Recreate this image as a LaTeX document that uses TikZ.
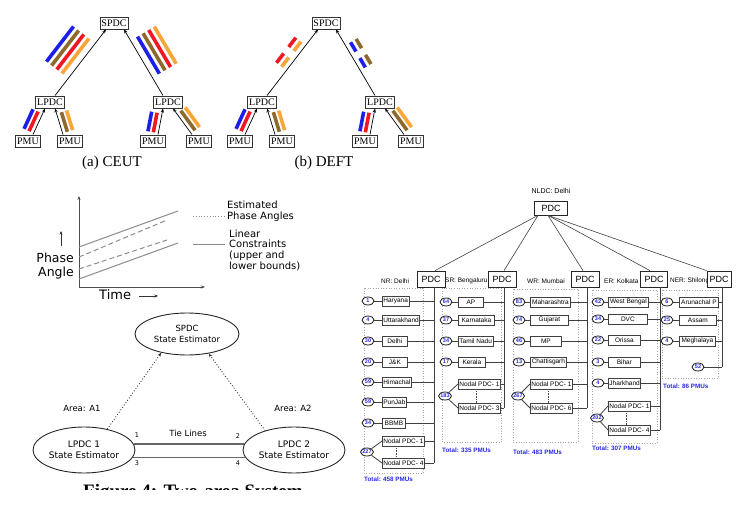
\documentclass[tikz,border=0pt]{standalone}
\usepackage{fontspec}
\setmainfont{Liberation Serif}
\newfontfamily\dejavu{DejaVu Sans}
\newfontfamily\arialf{Liberation Sans}
\usetikzlibrary{arrows.meta,calc,positioning,shapes.geometric}
\definecolor{stblue}{RGB}{30,30,235}
\definecolor{stbrown}{RGB}{140,105,45}
\definecolor{stred}{RGB}{240,25,35}
\definecolor{storange}{RGB}{250,165,55}
\definecolor{pmublue}{RGB}{40,40,225}

% coloured stripe beside an arrow: colour, from, to, t1, t2, offset
\newcommand{\stripe}[6]{\draw[bar,color=#1] ($(#2)!#4!(#3)!#6!90:(#3)$) -- ($(#2)!#5!(#3)!#6!90:(#3)$);}
% state rows of one region: prefix, circle x, box x, bus coordinate, rows
\newcommand{\staterows}[5]{%
  \foreach \n/\s/\yy/\w [count=\i] in {#5}{
    \node[st,anchor=west,minimum width=\w pt] (#1\i) at (#3,\yy) {\s};
    \node[pm] (#1c\i) at (#2,\yy) {\n};
    \draw[wire] (#1c\i) -- (#1\i);
    \draw[wire] (#1\i.east) -- (#1\i.east -| #4);
  }}

\begin{document}
\begin{tikzpicture}[x=1pt,y=-1pt,>=Stealth,
  pbox/.style={draw=black!80,line width=0.9pt,fill=white,inner sep=1.5pt,minimum height=12pt,font=\fontsize{10}{10}\selectfont},
  flow/.style={-{Stealth[length=4pt,width=3.2pt]},line width=0.7pt},
  bar/.style={line width=3.6pt},
  capt/.style={font=\fontsize{15}{15}\selectfont},
  est/.style={ellipse,draw=black!85,line width=0.9pt,inner sep=1pt,align=center,font=\dejavu\fontsize{8.5}{10.5}\selectfont},
  gtxt/.style={inner sep=0pt,align=left,font=\dejavu\fontsize{10}{10.7}\selectfont},
  small/.style={inner sep=0pt,font=\dejavu\fontsize{6.5}{6.5}\selectfont},
  tie/.style={black!60,line width=1.3pt},
  st/.style={draw=black!75,line width=0.8pt,fill=white,inner sep=1pt,minimum height=10pt,font=\arialf\fontsize{6.5}{6.5}\selectfont},
  pm/.style={ellipse,draw=black!90,line width=0.8pt,fill=white,inner sep=0pt,minimum width=12pt,minimum height=8pt,text=pmublue,font=\arialf\bfseries\fontsize{5.5}{5.5}\selectfont},
  pdc/.style={draw=black!85,line width=0.8pt,fill=white,minimum width=28pt,minimum height=16pt,inner sep=1pt,font=\arialf\fontsize{9}{9}\selectfont},
  wire/.style={black!75,line width=0.8pt},
  region/.style={draw=black!35,dotted,line width=0.6pt},
  tot/.style={anchor=west,inner sep=0pt,text=pmublue,font=\arialf\bfseries\fontsize{6.3}{6.3}\selectfont},
  rname/.style={anchor=west,inner sep=0pt,font=\arialf\fontsize{6.5}{6.5}\selectfont}]
\useasboundingbox (0,0) rectangle (744,505);

% (a) CEUT and (b) DEFT
\foreach \p/\dx/\lab in {A/0/(a) CEUT, B/212/(b) DEFT}{
  \node[pbox] (spdc\p) at (114+\dx,23) {SPDC};
  \node[pbox] (lpdcL\p) at (50+\dx,102) {LPDC};
  \node[pbox] (lpdcR\p) at (168+\dx,102) {LPDC};
  \foreach \q/\xx in {1/28,2/70,3/153,4/199}
    \node[pbox] (pmu\q\p) at (\xx+\dx,141) {PMU};
  \node[capt] (cap\p) at (112+\dx,163) {\lab};
  \coordinate (tl\p) at ([xshift=5]lpdcL\p.north);
  \coordinate (tr\p) at ([xshift=-5]lpdcR\p.north);
  \coordinate (sl\p) at ([xshift=-8]spdc\p.south);
  \coordinate (sr\p) at ([xshift=10]spdc\p.south);
  \coordinate (m1\p) at ([xshift=5]pmu1\p.north);
  \coordinate (l1\p) at ([xshift=-5]lpdcL\p.south);
  \coordinate (m2\p) at ([xshift=-7]pmu2\p.north);
  \coordinate (l2\p) at ([xshift=5]lpdcL\p.south);
  \coordinate (m3\p) at ([xshift=5]pmu3\p.north);
  \coordinate (l3\p) at ([xshift=-5]lpdcR\p.south);
  \coordinate (m4\p) at ([xshift=-7]pmu4\p.north);
  \coordinate (l4\p) at ([xshift=5]lpdcR\p.south);
  \stripe{stred}{m1\p}{l1\p}{0.05}{0.8}{5pt}
  \stripe{stblue}{m1\p}{l1\p}{0.05}{0.8}{10.5pt}
  \stripe{stbrown}{m2\p}{l2\p}{0.05}{0.8}{-5pt}
  \stripe{storange}{m2\p}{l2\p}{0.05}{0.8}{-10.5pt}
  \stripe{stred}{m3\p}{l3\p}{0.05}{0.8}{5pt}
  \stripe{stblue}{m3\p}{l3\p}{0.05}{0.8}{10.5pt}
  \stripe{stbrown}{m4\p}{l4\p}{0.05}{0.8}{-5pt}
  \stripe{storange}{m4\p}{l4\p}{0.05}{0.8}{-10.5pt}
  \draw[flow] (tl\p) -- (sl\p);
  \draw[flow] (tr\p) -- (sr\p);
  \foreach \q in {1,2,3,4}
    \draw[flow] (m\q\p) -- (l\q\p);
}
\foreach \c/\o in {storange/8pt,stred/14.5pt,stbrown/21pt,stblue/27.5pt}{
  \stripe{\c}{tlA}{slA}{0.26}{0.79}{\o}}
\foreach \c/\o in {stblue/-8pt,stbrown/-14.5pt,stred/-21pt,storange/-27.5pt}{
  \stripe{\c}{trA}{srA}{0.27}{0.83}{\o}}
\foreach \ta/\tb in {0.38/0.52,0.62/0.76}{
  \stripe{storange}{tlB}{slB}{\ta}{\tb}{6pt}
  \stripe{stred}{tlB}{slB}{\ta}{\tb}{12.5pt}
  \stripe{stblue}{trB}{srB}{\ta}{\tb}{-6pt}
  \stripe{stbrown}{trB}{srB}{\ta}{\tb}{-12.5pt}
}

% phase angle plot
\draw[black!70,line width=0.8pt,-{Stealth[length=4pt,width=3pt]}] (79,287) -- (79,196);
\draw[black!70,line width=0.8pt,-{Stealth[length=4pt,width=3pt]}] (79,287) -- (205,287);
\draw[black!45,line width=1pt] (79,247) -- (178,211);
\draw[black!45,line width=1pt,dash pattern=on 5pt off 3pt] (79,257) -- (167,220);
\draw[black!45,line width=1pt,dash pattern=on 5pt off 3pt] (79,269) -- (167,240);
\draw[black!45,line width=1pt] (79,279) -- (178,243);
\draw[black!45,dotted,line width=0.8pt] (193,216) -- (225,216);
\draw[black!45,line width=0.8pt] (193,244) -- (225,244);
\node[gtxt,anchor=north west] (estl) at (227,201) {Estimated\\Phase Angles};
\node[gtxt,anchor=north west] (linl) at (229,229.5) {Linear\\Constraints\\(upper and\\lower bounds)};
\node[inner sep=0pt,align=right,anchor=north east,font=\dejavu\fontsize{12.5}{14}\selectfont] (phl) at (74,252.5) {Phase\\Angle};
\draw[black!80,line width=0.7pt,-{Stealth[length=3.5pt,width=3pt]}] (61,246) -- (61,231);
\node[inner sep=0pt,anchor=base west,font=\dejavu\fontsize{13}{13}\selectfont] (timel) at (99,299) {Time};
\draw[black!80,line width=0.7pt,-{Stealth[length=3.5pt,width=3pt]}] (139,296) -- (158,296);

% two-area state estimation
\node[est,minimum width=104pt,minimum height=42pt] (spdcE) at (187,334) {SPDC\\State Estimator};
\node[est,minimum width=102pt,minimum height=46pt,font=\dejavu\fontsize{9}{11}\selectfont] (lpdc1) at (84,450) {LPDC 1\\State Estimator};
\node[est,minimum width=102pt,minimum height=46pt,font=\dejavu\fontsize{9}{11}\selectfont] (lpdc2) at (294,450) {LPDC 2\\State Estimator};
\draw[black!80,dotted,line width=0.9pt,-{Stealth[length=4pt,width=3pt]}] (lpdc1.42) -- (spdcE.-144);
\draw[black!80,dotted,line width=0.9pt,-{Stealth[length=4pt,width=3pt]}] (lpdc2.146) -- (spdcE.-42);
\draw[tie] (lpdc1.7) -- (lpdc2.173);
\draw[tie] (lpdc1.-9) -- (lpdc2.-171);
\node[small,font=\dejavu\fontsize{8.5}{8.5}\selectfont] (a1) at (82,408) {Area: A1};
\node[small,font=\dejavu\fontsize{8.5}{8.5}\selectfont] (a2) at (293,408) {Area: A2};
\node[small,font=\dejavu\fontsize{8.5}{8.5}\selectfont] (tiel) at (188,433) {Tie Lines};
\node[small] (n1) at (137,435) {1};
\node[small] (n2) at (238,436) {2};
\node[small] (n3) at (137,463) {3};
\node[small] (n4) at (238,463) {4};
\begin{scope}
  \clip (0,478) rectangle (360,489);
  \node[anchor=base west,inner sep=0pt,font=\bfseries\fontsize{19}{19}\selectfont] (fig4) at (83,497.5) {Figure 4: Two-area System};
\end{scope}

% PMU network
\draw[region] (364,288) rectangle (423,473);
\draw[region] (442,288) rectangle (501,442);
\draw[region] (513,289) rectangle (578,442);
\draw[region] (592,290) rectangle (657,443);
\draw[region] (662,290) rectangle (718,378);
\node[inner sep=0pt,font=\arialf\fontsize{7}{7}\selectfont] (nldcl) at (551,191) {NLDC: Delhi};
\node[pdc,minimum width=33pt,minimum height=14pt] (nldc) at (551,208) {PDC};
\node[rname] (nrl) at (381,281) {NR: Delhi};
\node[rname] (srl) at (445,281) {SR: Bengaluru};
\node[rname] (wrl) at (527,281) {WR: Mumbai};
\node[rname] (erl) at (604,281) {ER: Kolkata};
\node[rname] (nerl) at (670,281) {NER: Shilong};
\node[pdc] (nrPDC) at (431,279) {PDC};
\node[pdc] (srPDC) at (502,279) {PDC};
\node[pdc] (wrPDC) at (585,279) {PDC};
\node[pdc,minimum width=27pt] (erPDC) at (654,279) {PDC};
\node[pdc,minimum width=24pt] (nerPDC) at (719,279) {PDC};
\draw[wire,line width=0.6pt] ([xshift=-13]nldc.south) -- ([xshift=4]nrPDC.north);
\draw[wire,line width=0.6pt] ([xshift=-13]nldc.south) -- ([xshift=2]srPDC.north);
\draw[wire,line width=0.6pt] ([xshift=-3]nldc.south) -- ([xshift=-2]wrPDC.north);
\draw[wire,line width=0.6pt] ([xshift=-3]nldc.south) -- ([xshift=-4]erPDC.north);
\draw[wire,line width=0.6pt] ([xshift=-3]nldc.south) -- (nerPDC.north west);
\coordinate (nrBus) at (434,0);
\coordinate (srBus) at (504,0);
\coordinate (wrBus) at (587,0);
\coordinate (erBus) at (660,0);
\coordinate (nerBus) at (722,0);

\staterows{nr}{368}{382}{nrBus}{1/Haryana/301/25,4/Uttarakhand/320/36,30/Delhi/341/25,20/J\&K/362/25,59/Himachal/382/29,59/PunJab/402/23,34/BBMB/423/23}
\staterows{sr}{446}{458}{srBus}{64/AP/302/25,37/Karnataka/320/36,34/Tamil Nadu/341/33,17/Kerala/362/27}
\staterows{wr}{519}{530}{wrBus}{83/Maharashtra/302/40,74/Gujarat/320/38,46/MP/341/31,13/Chattisgarh/362/36}
\staterows{er}{598}{608}{erBus}{42/West Bengal/302/40,34/DVC/319/39,22/Orissa/340/32,3/Bihar/362/32,4/Jharkhand/383/32}
\staterows{ner}{667}{679}{nerBus}{6/Arunachal P/302/39,25/Assam/320/37,4/Meghalaya/341/36}

% nodal PDCs
\foreach \r/\cx/\bx/\ya/\yb/\n/\last/\dd in {nr/367/382/441/463/227/4/14,sr/445/458/384/408/183/3/18,wr/518/530/384/408/267/6/18,er/597/608/406/430/202/4/18}{
  \node[st,anchor=west,minimum width=41pt] (\r N1) at (\bx,\ya) {Nodal PDC- 1};
  \node[st,anchor=west,minimum width=42pt] (\r N2) at (\bx,\yb) {Nodal PDC- \last};
  \node[pm] (\r Nc) at (\cx,{(\ya+\yb)/2}) {\n};
  \draw[wire] (\r Nc) -- (\r N1.west);
  \draw[wire] (\r Nc) -- (\r N2.west);
  \draw[black!70,densely dotted,line width=0.6pt] ([xshift=\dd]\r N1.south west) -- ([xshift=\dd]\r N2.north west);
  \draw[wire] (\r N1.east) -- (\r N1.east -| \r Bus);
  \draw[wire] (\r N2.east) -- (\r N2.east -| \r Bus);
  \draw[wire] (\r Bus |- \r PDC.south) -- (\r Bus |- \r N2.east);
}
\node[pm] (nerEnd) at (698,367) {52};
\draw[wire] (nerEnd) -- (nerEnd -| nerBus);
\draw[wire] (nerBus |- nerPDC.south) -- (nerBus |- nerEnd);

\node[tot] (nrTot) at (364,479) {Total: 458 PMUs};
\node[tot] (srTot) at (442,450) {Total: 335 PMUs};
\node[tot] (wrTot) at (513,452) {Total: 483 PMUs};
\node[tot] (erTot) at (592,448) {Total: 307 PMUs};
\node[tot] (nerTot) at (663,386) {Total: 86 PMUs};
\end{tikzpicture}
\end{document}
